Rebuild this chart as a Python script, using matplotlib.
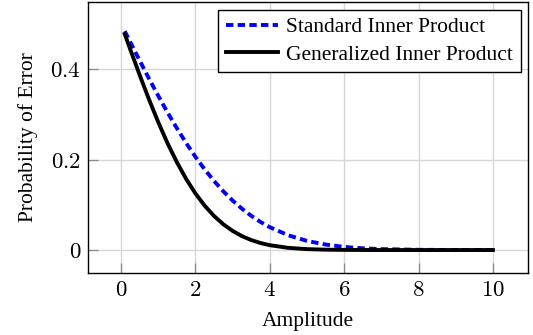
import matplotlib
matplotlib.use("Agg")
import matplotlib.pyplot as plt

amplitude = [0.1, 0.25, 0.5, 0.75, 1.0, 1.25, 1.5, 1.75, 2.0, 2.25, 2.5, 2.75,
             3.0, 3.25, 3.5, 3.75, 4.0, 4.5, 5.0, 5.5, 6.0, 6.5, 7.0, 8.0, 9.0, 10.0]
standard = [0.4836, 0.459, 0.4188, 0.379, 0.3409, 0.304, 0.2693, 0.2365, 0.2061,
            0.1781, 0.1527, 0.1298, 0.1094, 0.0914, 0.0757, 0.0621, 0.0505, 0.0325,
            0.0202, 0.0121, 0.0069, 0.0038, 0.0021, 0.0005, 0.0001, 0.00002]
generalized = [0.4771, 0.4428, 0.3869, 0.3332, 0.2826, 0.2361, 0.1942, 0.1572, 0.1251,
               0.0979, 0.0753, 0.0569, 0.0423, 0.0308, 0.0221, 0.0155, 0.0107, 0.0048,
               0.0020, 0.0008, 0.0003, 0.0001, 0.0, 0.0, 0.0, 0.0]
xticks = [0, 2, 4, 6, 8, 10]
yticks = [0, 0.2, 0.4]
ytick_labels = ["0", "0.2", "0.4"]

plt.rcParams["font.family"] = ["Liberation Serif", "DejaVu Serif"]
plt.rcParams["mathtext.fontset"] = "cm"

fig = plt.figure(figsize=(5.33, 3.35), dpi=100)
ax = fig.add_axes([0.165, 0.185, 0.826, 0.809])

ax.plot(amplitude, standard, color="blue", lw=2.8, ls=(0, (1.9, 1.1)),
        label="Standard Inner Product", zorder=3)
ax.plot(amplitude, generalized, color="black", lw=2.8, ls="-",
        label="Generalized Inner Product", zorder=3)

ax.set_xlim(-0.89, 10.95)
ax.set_ylim(-0.0508, 0.548)
ax.set_xticks(xticks)
ax.set_xticklabels([r"$%d$" % t for t in xticks])
ax.set_yticks(yticks)
ax.set_yticklabels([r"$%s$" % t for t in ytick_labels])
ax.grid(True, color="#d6d6d6", lw=1.0, zorder=0)
ax.tick_params(direction="in", length=7.5, width=0.9, color="#888888",
               labelsize=16.5, pad=5)
for s in ax.spines.values():
    s.set_linewidth(1.0)
    s.set_color("black")

ax.set_xlabel("Amplitude", fontsize=15.5, labelpad=8)
ax.set_ylabel("Probability of Error", fontsize=15.5, labelpad=9)

leg = ax.legend(loc="upper right", fontsize=15.5, frameon=True, fancybox=False,
                edgecolor="black", framealpha=1, handlelength=2.4,
                borderpad=0.35, labelspacing=0.35, handletextpad=0.4,
                borderaxespad=0.35)
leg.get_frame().set_linewidth(1.0)

fig.savefig("out.png", dpi=100)
